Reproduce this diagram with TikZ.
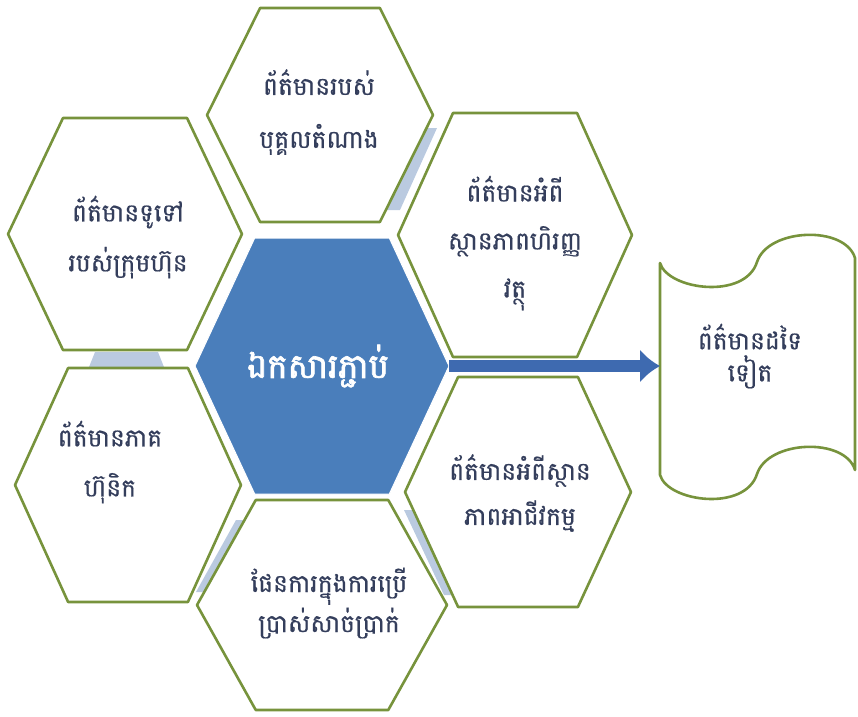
\documentclass[tikz,border=0pt]{standalone}
\usepackage{fontspec}
\newfontfamily\khmer[Script=Khmer,FakeBold=0.6]{Battambang}
\newfontfamily\khmerbold[Script=Khmer,FakeBold=2]{Battambang}
\usetikzlibrary{arrows.meta}
\definecolor{hexgreen}{RGB}{119,147,60}
\definecolor{stripblue}{RGB}{186,202,224}
\definecolor{coreblue}{RGB}{74,126,187}
\definecolor{arrowblue}{RGB}{62,106,176}
\definecolor{txtblue}{RGB}{52,62,92}
% hexagon: [style]{name}{cx}{cy}{half width}{half height}
\newcommand\hexcell[6][hexline]{%
  \path[#1] ({#3-#5},#4) coordinate (#2-w) -- ({#3-.53*#5},{#4-#6}) -- ({#3+.53*#5},{#4-#6})
    -- ({#3+#5},#4) coordinate (#2-e) -- ({#3+.53*#5},{#4+#6}) -- ({#3-.53*#5},{#4+#6}) -- cycle;}
\begin{document}
\begin{tikzpicture}[x=1pt, y=-1pt,
  hexline/.style={draw=hexgreen, fill=white, line width=2.6pt, line join=round},
  corehex/.style={draw=white, fill=coreblue, line width=1pt},
  strip/.style={fill=stripblue},
  celltext/.style={align=center, text=txtblue, font=\khmer\fontsize{25}{#1}\selectfont},
  celltext/.default=50,
  coretext/.style={align=center, text=white, font=\khmerbold\fontsize{34}{40}\selectfont}]
\useasboundingbox (0,0) rectangle (858,716);

\fill[strip] (420,128) -- (437,128) -- (400,210) -- (383,210) -- cycle;
\fill[strip] (95,352) -- (158,352) -- (166,372) -- (87,372) -- cycle;
\fill[strip] (236,520) -- (252,520) -- (212,592) -- (196,592) -- cycle;
\fill[strip] (404,510) -- (420,510) -- (460,595) -- (444,595) -- cycle;

\hexcell{top}{320}{115}{113}{107}
\hexcell{ul}{125}{234}{117}{116}
\hexcell{ur}{515}{235}{117}{122}
\hexcell{ll}{128}{485}{113}{117}
\hexcell{lr}{518}{492}{113}{115}
\hexcell{bot}{322}{605}{125}{105}
\hexcell[corehex]{core}{322}{366}{127}{128}

\draw[hexline] (660,263) .. controls (668,290) and (745,300) .. (757,262)
  .. controls (768,228) and (845,225) .. (855,258) -- (855,470)
  .. controls (845,437) and (768,440) .. (757,474)
  .. controls (745,512) and (668,502) .. (660,475) -- cycle;
\coordinate (scroll-w) at (660,366);

\draw[arrowblue, line width=12pt, -{Latex[length=20pt,width=34pt]}] (core-e) -- (scroll-w);

\node[celltext=53] (top-txt) at (319,112) {ព័ត៌មានរបស់\\បុគ្គលតំណាង};
\node[celltext] (ul-txt) at (128,237) {ព័ត៌មានទូទៅ\\របស់ក្រុមហ៊ុន};
\node[celltext=48] (ur-txt) at (515,243) {ព័ត៌មានអំពី\\ស្ថានភាពហិរញ្ញ\\វត្ថុ};
\node[coretext] (core-txt) at (318,366) {ឯកសារភ្ជាប់};
\node[celltext] (ll-txt) at (110,462) {ព័ត៌មានភាគ\\ហ៊ុនិក};
\node[celltext=45] (lr-txt) at (520,493) {ព័ត៌មានអំពីស្ថាន\\ភាពអាជីវកម្ម};
\node[celltext=40] (bot-txt) at (329,603) {ផែនការក្នុងការប្រើ\\ប្រាស់សាច់ប្រាក់};
\node[celltext=32] (scroll-txt) at (750,356) {ព័ត៌មានដទៃ\\ទៀត};
\end{tikzpicture}
\end{document}
